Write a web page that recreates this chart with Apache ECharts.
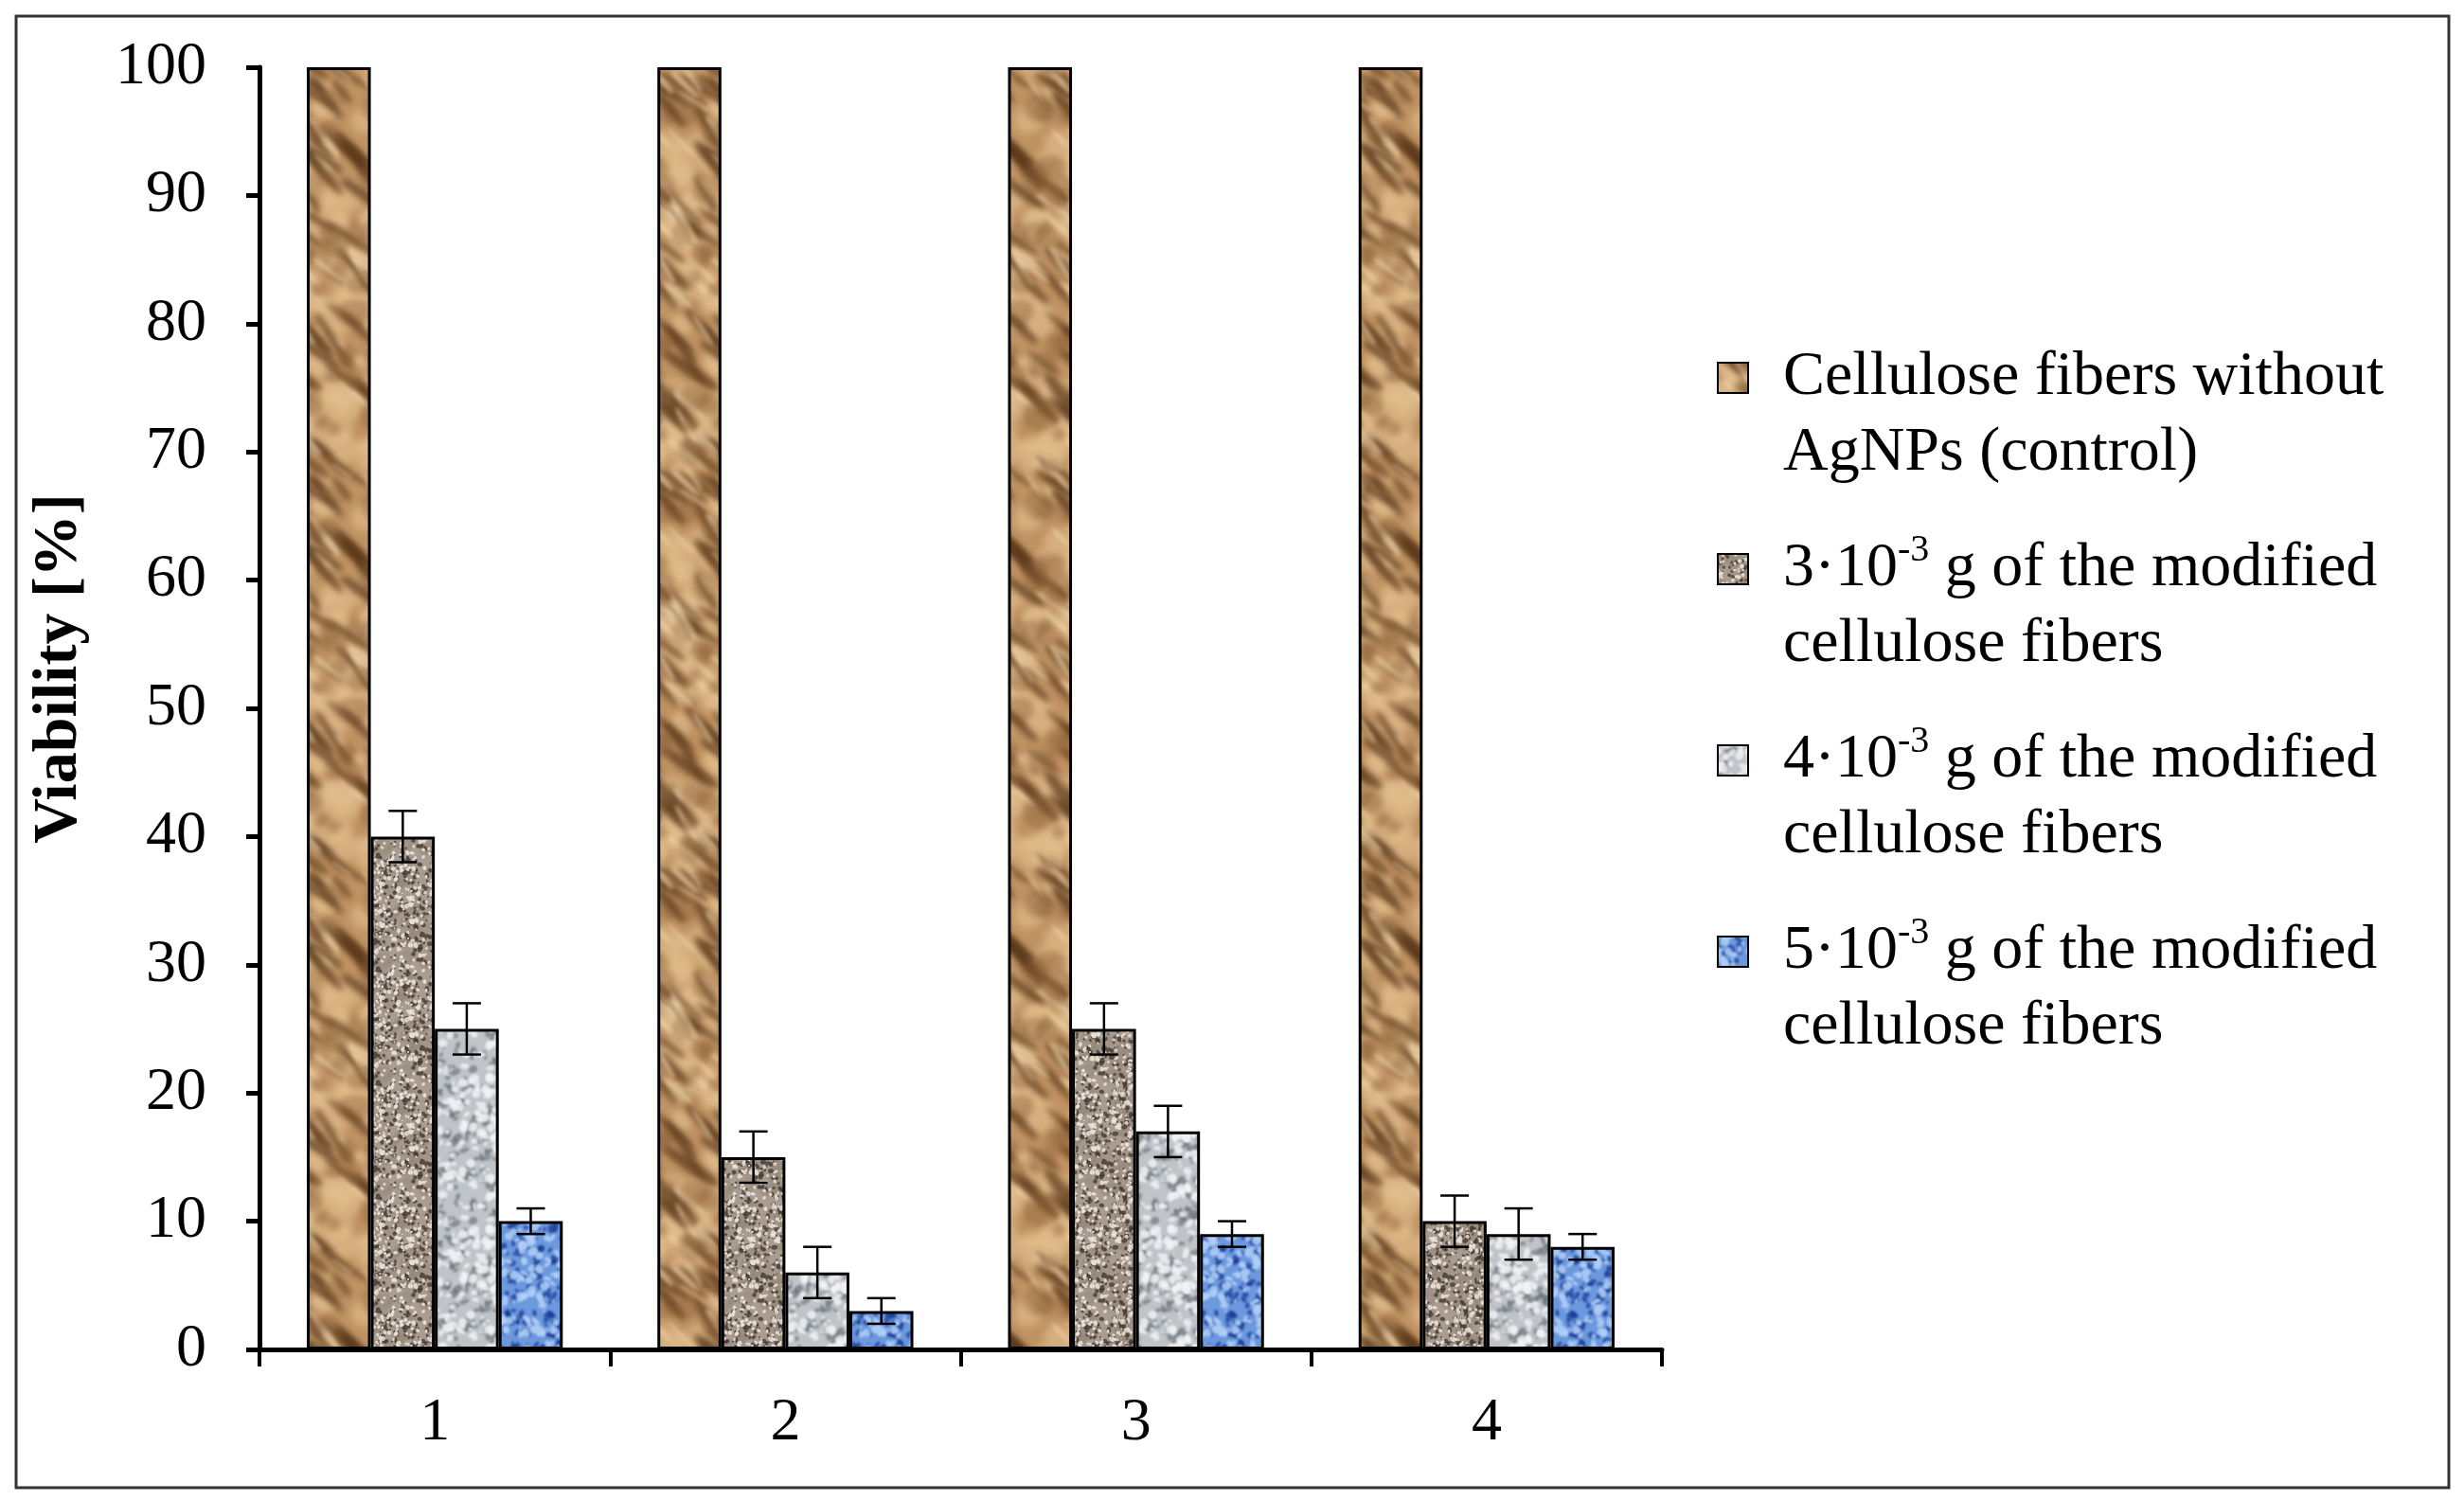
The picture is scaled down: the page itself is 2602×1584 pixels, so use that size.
<!DOCTYPE html>
<html>
<head>
<meta charset="utf-8">
<script src="https://cdn.jsdelivr.net/npm/echarts@6/dist/echarts.min.js"></script>
<style>
  html, body { margin: 0; padding: 0; background: #fff; }
  #chart { width: 2602px; height: 1584px; }
</style>
</head>
<body>
<div id="chart"></div>
<script>
const categories = ['1', '2', '3', '4'];
const seriesNames = [
  'Cellulose fibers without AgNPs (control)',
  '3·10-3 g of the modified cellulose fibers',
  '4·10-3 g of the modified cellulose fibers',
  '5·10-3 g of the modified cellulose fibers'
];
const legendLabels = [
  'Cellulose fibers without\nAgNPs (control)',
  '3·10{sup|-3} g of the modified\ncellulose fibers',
  '4·10{sup|-3} g of the modified\ncellulose fibers',
  '5·10{sup|-3} g of the modified\ncellulose fibers'
];
const control = [100, 100, 100, 100];
const dose3 = [40, 15, 25, 10];
const dose3Err = [2, 2, 2, 2];
const dose4 = [25, 6, 17, 9];
const dose4Err = [2, 2, 2, 2];
const dose5 = [10, 3, 9, 8];
const dose5Err = [1, 1, 1, 1];

const FONT = '"Liberation Serif", "Times New Roman", serif';
const GAP = 0.27;

// small seeded generator, only used to scatter texture blotches
function seeded(seed) {
  return function () {
    seed = (seed + 0x6D2B79F5) | 0;
    let t = Math.imul(seed ^ (seed >>> 15), 1 | seed);
    t = (t + Math.imul(t ^ (t >>> 7), 61 | t)) ^ t;
    return ((t ^ (t >>> 14)) >>> 0) / 4294967296;
  };
}

function texture(w, h, base, layers, seed) {
  const c = document.createElement('canvas');
  c.width = w; c.height = h;
  const ctx = c.getContext('2d');
  const r = seeded(seed);
  ctx.fillStyle = base;
  ctx.fillRect(0, 0, w, h);
  layers.forEach(L => {
    ctx.filter = L.blur ? 'blur(' + L.blur + 'px)' : 'none';
    ctx.fillStyle = L.color;
    for (let i = 0; i < L.n; i++) {
      const x = r() * w, y = r() * h;
      const rx = L.r[0] + r() * (L.r[1] - L.r[0]);
      const ry = rx * (L.stretch || 1) * (0.6 + r() * 0.8);
      const ang = L.angle != null ? L.angle + (r() - 0.5) * 0.5 : r() * Math.PI;
      // draw wrapped copies so the tile repeats without seams
      for (let dx = -w; dx <= w; dx += w) {
        for (let dy = -h; dy <= h; dy += h) {
          ctx.beginPath();
          ctx.ellipse(x + dx, y + dy, rx, ry, ang, 0, Math.PI * 2);
          ctx.fill();
        }
      }
    }
  });
  ctx.filter = 'none';
  return c;
}

const texPaper = texture(140, 420, '#c09363', [
  { color: 'rgba(228,194,145,0.6)', n: 70, r: [8, 22], blur: 4 },
  { color: 'rgba(90,55,25,0.7)', n: 55, r: [16, 38], stretch: 0.16, angle: 0.8, blur: 3 },
  { color: 'rgba(240,214,172,0.65)', n: 40, r: [10, 28], stretch: 0.12, angle: 0.8, blur: 2 },
  { color: 'rgba(135,92,52,0.4)', n: 45, r: [6, 16], blur: 3 }
], 11);
const texGranite = texture(120, 120, '#a99d91', [
  { color: 'rgba(150,135,120,0.5)', n: 160, r: [3, 7], blur: 1 },
  { color: 'rgba(70,60,52,0.8)', n: 420, r: [1, 2.6], blur: 0.4 },
  { color: 'rgba(236,228,220,0.85)', n: 380, r: [1, 2.4], blur: 0.4 }
], 23);
const texMarble = texture(120, 160, '#c0c4c8', [
  { color: 'rgba(100,108,116,0.6)', n: 210, r: [2, 6], stretch: 0.55, blur: 1.2 },
  { color: 'rgba(242,244,246,0.8)', n: 220, r: [2, 6], stretch: 0.7, blur: 1.2 }
], 37);
const texBlue = texture(120, 160, '#6c98de', [
  { color: 'rgba(25,60,150,0.75)', n: 230, r: [2, 5], stretch: 0.7, blur: 1 },
  { color: 'rgba(178,208,246,0.85)', n: 210, r: [2, 6], stretch: 0.7, blur: 1 }
], 53);

const fills = [texPaper, texGranite, texMarble, texBlue];
const values = [control, dose3, dose4, dose5];
const errs = [null, dose3Err, dose4Err, dose5Err];

const errData = [];
for (let s = 1; s < 4; s++) {
  values[s].forEach((v, i) => {
    errData.push([i, v - errs[s][i], v + errs[s][i], s]);
  });
}

function renderErr(params, api) {
  const cat = api.value(0), lo = api.value(1), hi = api.value(2), slot = api.value(3);
  const band = api.size([1, 0])[0];
  const barW = band * (1 - GAP) / 4;
  const cx = api.coord([cat, 0])[0] + (slot - 1.5) * barW;
  const yLo = api.coord([cat, lo])[1];
  const yHi = api.coord([cat, hi])[1];
  const cap = 15;
  const st = { stroke: '#000', lineWidth: 2.5 };
  return {
    type: 'group',
    children: [
      { type: 'line', shape: { x1: cx, y1: yLo, x2: cx, y2: yHi }, style: st },
      { type: 'line', shape: { x1: cx - cap, y1: yHi, x2: cx + cap, y2: yHi }, style: st },
      { type: 'line', shape: { x1: cx - cap, y1: yLo, x2: cx + cap, y2: yLo }, style: st }
    ]
  };
}

const barSeries = seriesNames.map((name, s) => ({
  name: name,
  type: 'bar',
  data: values[s],
  barGap: '0%',
  barCategoryGap: (GAP * 100) + '%',
  itemStyle: {
    color: { image: fills[s], repeat: 'repeat' },
    borderColor: '#000',
    borderWidth: 3
  },
  z: 2
}));

const chart = echarts.init(document.getElementById('chart'));
chart.setOption({
  animation: false,
  backgroundColor: '#fff',
  textStyle: { fontFamily: FONT, color: '#000' },
  graphic: [{
    type: 'rect',
    silent: true,
    shape: { x: 17, y: 17, width: 2569, height: 1554 },
    style: { fill: 'none', stroke: '#333', lineWidth: 3 }
  }],
  grid: { left: 274, top: 71, width: 1481, height: 1354 },
  legend: {
    orient: 'vertical',
    left: 1813,
    top: 358,
    padding: 0,
    itemGap: 40,
    itemWidth: 64,
    itemHeight: 160,
    // square sits at the first text line; empty points stretch the icon box
    icon: 'path://M0,0L0,0M64,160L64,160M0,24L32,24L32,56L0,56Z',
    data: seriesNames,
    formatter: name => legendLabels[seriesNames.indexOf(name)],
    textStyle: {
      fontFamily: FONT,
      fontSize: 66,
      lineHeight: 80,
      color: '#000',
      rich: {
        sup: { fontFamily: FONT, fontSize: 40, lineHeight: 44, verticalAlign: 'top', color: '#000' }
      }
    }
  },
  xAxis: {
    type: 'category',
    data: categories,
    axisLine: { lineStyle: { color: '#000', width: 5 } },
    axisTick: { show: true, length: 18, lineStyle: { color: '#000', width: 4 } },
    axisLabel: { fontFamily: FONT, fontSize: 64, color: '#000', margin: 46 },
    splitLine: { show: false }
  },
  yAxis: {
    type: 'value',
    min: 0,
    max: 100,
    interval: 10,
    name: 'Viability [%]',
    nameLocation: 'middle',
    nameGap: 178,
    nameTextStyle: { fontFamily: FONT, fontSize: 66, fontWeight: 'bold', color: '#000', padding: [0, 0, 0, 84] },
    axisLine: { show: true, lineStyle: { color: '#000', width: 5 } },
    axisTick: { show: true, length: 14, lineStyle: { color: '#000', width: 5 } },
    axisLabel: { fontFamily: FONT, fontSize: 64, color: '#000', margin: 56 },
    splitLine: { show: false }
  },
  series: barSeries.concat([{
    name: 'error',
    type: 'custom',
    renderItem: renderErr,
    encode: { x: 0, y: [1, 2] },
    data: errData,
    z: 5
  }])
});
</script>
</body>
</html>
